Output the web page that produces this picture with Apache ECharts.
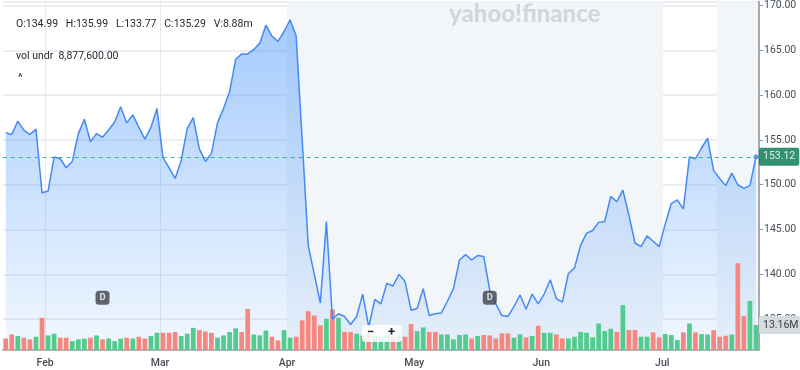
<!DOCTYPE html>
<html><head><meta charset="utf-8">
<script src="https://cdn.jsdelivr.net/npm/echarts@6/dist/echarts.min.js"></script>
<style>html,body{margin:0;padding:0;background:#fff}#c{width:800px;height:370px}</style>
</head><body><div id="c"></div>
<script>
// ---- data ----
const dates = [
 '01-23','01-24','01-27','01-28','01-29','01-30','01-31',
 '02-03','02-04','02-05','02-06','02-07','02-10','02-11','02-12','02-13','02-14','02-18','02-19','02-20','02-21','02-24','02-25','02-26','02-27','02-28',
 '03-03','03-04','03-05','03-06','03-07','03-10','03-11','03-12','03-13','03-14','03-17','03-18','03-19','03-20','03-21','03-24','03-25','03-26','03-27','03-28','03-31',
 '04-01','04-02','04-03','04-04','04-07','04-08','04-09','04-10','04-11','04-14','04-15','04-16','04-17','04-21','04-22','04-23','04-24','04-25','04-28','04-29','04-30',
 '05-01','05-02','05-05','05-06','05-07','05-08','05-09','05-12','05-13','05-14','05-15','05-16','05-19','05-20','05-21','05-22','05-23','05-27','05-28','05-29','05-30',
 '06-02','06-03','06-04','06-05','06-06','06-09','06-10','06-11','06-12','06-13','06-16','06-17','06-18','06-20','06-23','06-24','06-25','06-26','06-27','06-30',
 '07-01','07-02','07-03','07-07','07-08','07-09','07-10','07-11','07-14','07-15','07-16','07-17','07-18','07-21','07-22','07-23'
];
const monthLabels = {'02-03':'Feb','03-03':'Mar','04-01':'Apr','05-01':'May','06-02':'Jun','07-01':'Jul'};
const prices = [
 155.8,155.6,157.1,156.1,155.6,156.2,149.1,149.3,153.1,152.9,
 151.9,152.6,155.7,157.3,154.8,155.7,155.3,156.1,157.0,158.7,
 156.9,157.8,156.4,155.1,156.4,158.5,153.0,151.9,150.7,152.7,
 156.3,157.5,154.0,152.6,153.5,156.9,158.5,160.4,164.0,164.6,
 164.6,165.1,165.8,167.8,166.6,166.0,167.1,168.4,166.6,155.0,
 143.2,140.0,136.8,145.9,135.0,135.6,135.3,134.4,135.3,137.8,
 134.1,137.2,136.7,139.0,138.7,140.0,139.2,136.0,136.2,138.4,
 135.4,135.6,135.7,137.0,138.4,141.6,142.2,141.6,142.1,142.0,
 138.2,136.7,135.4,135.3,136.4,137.7,136.1,137.8,136.7,137.8,
 139.4,137.3,136.9,140.1,140.7,143.2,144.6,144.9,145.8,145.9,
 148.7,148.1,149.4,146.6,143.5,143.1,144.3,143.7,143.1,145.6,
 147.9,148.3,147.3,153.1,152.9,154.1,155.2,151.6,150.7,149.9,
 151.3,150.0,149.6,149.9,153.12
];
// volume in millions
const volumes = [
 6.1,8.2,7.4,6.5,5.6,7.0,17.0,7.7,8.6,6.5,
 6.5,4.7,5.6,6.0,6.5,7.7,5.6,6.1,4.7,6.0,
 6.5,6.1,7.0,6.1,7.4,9.1,9.1,9.1,9.5,7.4,
 8.6,11.7,10.5,9.8,9.1,6.5,7.7,9.5,11.4,9.5,
 21.7,8.2,7.7,10.3,7.0,5.1,10.5,6.5,7.0,15.6,
 20.5,18.2,13.0,16.5,21.4,17.0,9.6,9.5,8.6,7.6,
 9.1,7.5,7.0,8.0,7.0,8.0,7.0,13.7,10.0,11.9,
 9.6,9.6,8.2,8.2,5.6,7.9,8.2,6.1,7.4,7.9,
 7.7,6.1,8.8,8.8,6.5,8.2,6.7,7.4,12.8,9.1,
 9.1,8.2,6.1,6.1,7.0,9.6,9.1,6.7,14.0,10.0,
 11.2,9.6,23.7,10.5,10.5,7.0,7.0,9.3,6.7,8.4,
 7.9,5.3,9.3,14.0,9.3,8.4,8.2,10.5,7.0,7.5,
 8.2,45.8,17.9,25.9,13.16
];
const volUp = [
 0,0,1,0,0,1,0,1,1,0,
 0,1,1,1,0,1,0,1,1,1,
 0,1,0,0,1,1,0,0,0,1,
 1,1,0,0,0,1,1,1,1,0,
 0,1,1,1,0,0,1,1,0,0,
 0,0,0,1,0,1,0,0,1,1,
 0,1,1,1,0,1,0,0,1,1,
 0,0,1,1,1,1,1,0,1,0,
 0,0,0,0,1,1,0,1,0,1,
 1,0,0,1,1,1,1,1,1,1,
 1,0,1,0,0,1,1,0,0,1,
 1,1,0,1,0,1,1,0,0,0,
 1,0,0,1,1
];
const dividendDates = ['02-14','05-19'];
const shadeRanges = [['04-01','06-30'],['07-15','07-23']];
const lastPrice = 153.12;
const lastVolume = 13.16;
const priceMin = 131.56, priceMax = 170.44;
const volMax = 184;
const dividendLevel = 137.4;

// ---- chart ----
const FONT = 'Roboto, "Liberation Sans", Arial, sans-serif';
const GREEN = '#52cb8f', RED = '#f6877f', LINE = '#4489f6';
const N = dates.length;
const isMonth = (i, v) => !!monthLabels[v];
const inShade = d => shadeRanges.some(r => d >= r[0] && d <= r[1]);
const shadeData = dates.map((d, i) => inShade(d) ? [i, 150] : null).filter(Boolean);

const chart = echarts.init(document.getElementById('c'));
chart.setOption({
  animation: false,
  backgroundColor: '#ffffff',
  grid: {left: 2.7, right: 41, top: 0, bottom: 20},
  xAxis: {
    type: 'category', data: dates, boundaryGap: true,
    axisLine: {lineStyle: {color: '#9ca2a8', width: 1.5}},
    axisTick: {interval: isMonth, length: 5, lineStyle: {color: '#9ca2a8'}},
    axisLabel: {interval: isMonth, formatter: v => monthLabels[v] || '', padding: [0, 6, 0, 0],
      color: '#464e56', fontSize: 10.5, fontWeight: 500, fontFamily: FONT, margin: 8},
    splitLine: {show: true, interval: isMonth, lineStyle: {color: '#e6e9ed', width: 1}}
  },
  yAxis: [{
    type: 'value', position: 'right', min: priceMin, max: priceMax, splitNumber: 8, scale: true,
    axisLine: {show: true, lineStyle: {color: '#8d939a', width: 1.5}},
    axisTick: {show: true, length: 4, lineStyle: {color: '#8d939a'}},
    axisLabel: {showMinLabel: false, showMaxLabel: false, formatter: v => v.toFixed(2),
      color: '#464e56', fontSize: 10.5, fontFamily: FONT, margin: 5},
    splitLine: {lineStyle: {color: '#e6e9ed', width: 1.5}}
  }, {
    type: 'value', min: 0, max: volMax, show: false, splitLine: {show: false}
  }],
  series: [
    {
      type: 'custom', name: 'shade', silent: true, z: 0, data: shadeData,
      renderItem: (params, api) => {
        const c = api.coord([api.value(0), api.value(1)]);
        const bw = api.size([1, 0])[0];
        const cs = params.coordSys;
        return {type: 'rect', shape: {x: c[0] - bw / 2, y: cs.y, width: bw + 0.6, height: cs.height},
          style: {fill: '#f3f6f9'}};
      }
    },
    {
      type: 'line', name: 'area', data: prices, silent: true, z: 1, symbol: 'none',
      lineStyle: {width: 0, opacity: 0},
      areaStyle: {color: new echarts.graphic.LinearGradient(0, 0, 0, 1, [
        {offset: 0, color: 'rgba(70,148,250,0.70)'},
        {offset: 1, color: 'rgba(70,148,250,0.10)'}
      ])}
    },
    {
      type: 'bar', name: 'vol', yAxisIndex: 1, z: 2, barCategoryGap: '22%',
      data: volumes.map((v, i) => ({value: v, itemStyle: {color: volUp[i] ? GREEN : RED}})),
      markLine: {
        silent: true, symbol: 'none', data: [{yAxis: lastVolume}],
        lineStyle: {color: 'rgba(0,0,0,0)', width: 1},
        label: {show: true, position: 'end', distance: 0, formatter: lastVolume.toFixed(2) + 'M',
          backgroundColor: '#d7dadf', color: '#3a4048', padding: [4, 4, 3, 4], borderRadius: 2,
          fontSize: 10.5, fontFamily: FONT}
      }
    },
    {
      type: 'line', name: 'price', data: prices, z: 3, symbol: 'none',
      lineStyle: {color: LINE, width: 1.5},
      markLine: {
        silent: true, symbol: 'none', data: [{yAxis: lastPrice}],
        lineStyle: {color: '#25a878', type: [4, 4], width: 1.2, opacity: 0.85},
        label: {position: 'end', distance: 0, formatter: lastPrice.toFixed(2),
          backgroundColor: '#0e7c5b', color: '#ffffff', padding: [4, 4, 3, 4], borderRadius: 2,
          fontSize: 10.5, fontFamily: FONT}
      }
    },
    {
      type: 'scatter', name: 'last', z: 4, silent: true, symbol: 'circle', symbolSize: 5,
      itemStyle: {color: LINE}, data: [[dates[N - 1], lastPrice]]
    },
    {
      type: 'scatter', name: 'div', z: 5, silent: true, symbol: 'roundRect', symbolSize: 14,
      itemStyle: {color: '#3c4148'},
      label: {show: true, position: 'inside', formatter: 'D', color: '#ffffff', fontSize: 9.5,
        fontWeight: 'bold', fontFamily: FONT},
      data: dividendDates.map(d => [d, dividendLevel])
    }
  ],
  graphic: [
    {type: 'text', left: 449, top: 2, z: 1, silent: true,
      style: {text: 'yahoo!finance', fill: '#d3d7dc', font: '900 24px Lato, "Open Sans", sans-serif'}},
    {type: 'text', left: 16, top: 19, z: 10, silent: true,
      style: {text: 'O:134.99   H:135.99   L:133.77   C:135.29   V:8.88m', fill: '#232a31',
        font: '10.5px ' + FONT}},
    {type: 'text', left: 16, top: 51, z: 10, silent: true,
      style: {text: 'vol undr  8,877,600.00', fill: '#232a31', font: '10.5px ' + FONT}},
    {type: 'text', left: 18, top: 73, z: 10, silent: true,
      style: {text: '^', fill: '#232a31', font: '11px ' + FONT}},
    {type: 'rect', x: 362, y: 325, z: 20, silent: true, shape: {x: 0, y: 0, width: 40, height: 17, r: 3},
      style: {fill: 'rgba(255,255,255,0.85)'}},
    {type: 'text', x: 367, y: 326, z: 21, silent: true,
      style: {text: '\u2212', fill: '#232a31', font: 'bold 13px ' + FONT}},
    {type: 'text', x: 388, y: 326, z: 21, silent: true,
      style: {text: '+', fill: '#232a31', font: 'bold 13px ' + FONT}}
  ]
});
</script>
</body></html>
